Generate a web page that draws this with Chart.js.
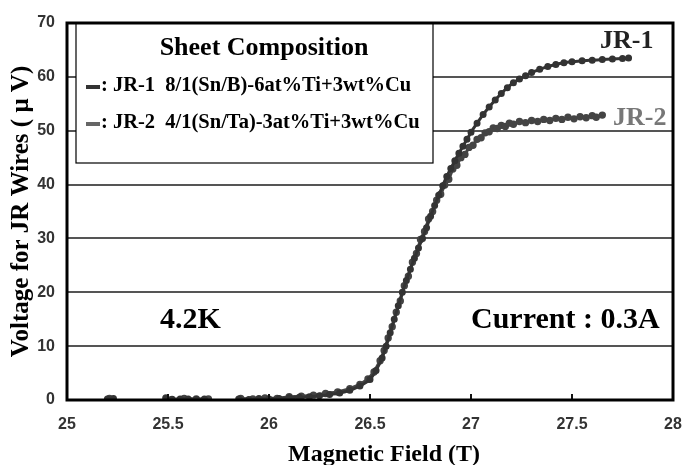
<!DOCTYPE html>
<html>
<head>
<meta charset="utf-8">
<script src="https://cdn.jsdelivr.net/npm/chart.js@4"></script>
<style>
  html, body { margin: 0; padding: 0; background: #fff; }
  #wrap { width: 686px; height: 465px; }
</style>
</head>
<body>
<div id="wrap"><canvas id="jrChart" width="686" height="465"></canvas></div>
<script>
// Magnetic field (T) and voltage (uV)
const fieldJR1 = [25.20, 25.23, null, 25.49, 25.52, 25.56, 25.60, 25.64, 25.68, null,
  25.85, 25.90, 25.95, 26.00, 26.05, 26.10, 26.15, 26.20, 26.25, 26.30, 26.35, 26.40,
  26.45, 26.50, 26.53, 26.56, 26.58, 26.60, 26.62, 26.64, 26.66, 26.68, 26.70, 26.72,
  26.74, 26.76, 26.78, 26.80, 26.82, 26.84, 26.86, 26.88, 26.90, 26.92, 26.94, 26.96,
  26.98, 27.00, 27.03, 27.06, 27.09, 27.12, 27.15, 27.18, 27.21, 27.24, 27.27, 27.30,
  27.34, 27.38, 27.42, 27.46, 27.50, 27.55, 27.60, 27.65, 27.70, 27.75, 27.78];
const voltJR1 = [0.2, 0.3, null, 0.3, 0.1, 0.2, 0.2, 0.1, 0.2, null,
  0.2, 0.1, 0.3, 0.2, 0.3, 0.4, 0.5, 0.6, 0.8, 1.0, 1.3, 1.8,
  2.6, 3.8, 5.5, 7.8, 10.0, 12.5, 15.0, 17.5, 20.0, 22.2, 24.3, 26.3,
  28.2, 30.0, 32.0, 34.1, 36.1, 38.0, 39.8, 41.5, 43.0, 44.4, 45.8, 47.1,
  48.4, 49.7, 51.4, 53.0, 54.4, 55.7, 56.9, 58.0, 58.9, 59.6, 60.2, 60.8,
  61.4, 61.9, 62.3, 62.6, 62.8, 63.0, 63.1, 63.2, 63.3, 63.4, 63.5];

const fieldJR2 = [25.21, null, 25.49, 25.52, 25.58, 25.64, 25.70, null,
  25.86, 25.92, 25.98, 26.04, 26.10, 26.16, 26.22, 26.28, 26.34, 26.40, 26.45, 26.49,
  26.52, 26.55, 26.57, 26.59, 26.61, 26.63, 26.65, 26.67, 26.69, 26.71, 26.73, 26.75,
  26.77, 26.79, 26.81, 26.83, 26.85, 26.87, 26.89, 26.91, 26.93, 26.95, 26.97, 26.99,
  27.01, 27.03, 27.05, 27.07, 27.09, 27.11, 27.13, 27.15, 27.17, 27.19, 27.21, 27.24,
  27.27, 27.30, 27.33, 27.36, 27.39, 27.42, 27.45, 27.48, 27.51, 27.54, 27.57, 27.60,
  27.62, 27.65];
const voltJR2 = [0.3, null, 0.4, 0.1, 0.3, 0.2, 0.2, null,
  0.3, 0.2, 0.4, 0.3, 0.6, 0.7, 0.9, 1.2, 1.5, 2.1, 2.9, 3.9,
  5.2, 7.3, 9.2, 11.5, 13.6, 16.3, 18.4, 21.2, 23.0, 25.6, 27.2, 29.8,
  31.3, 33.6, 35.0, 37.1, 38.2, 39.9, 41.0, 42.9, 43.6, 45.0, 45.6, 46.9,
  47.3, 48.4, 48.7, 49.6, 49.8, 50.5, 50.4, 51.0, 50.8, 51.4, 51.2, 51.7,
  51.5, 51.9, 51.7, 52.1, 51.9, 52.3, 52.1, 52.5, 52.2, 52.6, 52.4, 52.8,
  52.5, 52.9];

const xTicks = [25, 25.5, 26, 26.5, 27, 27.5, 28];
const seriesNames = ["JR-1", "JR-2"];
const legendTexts = [": JR-1  8/1(Sn/B)-6at%Ti+3wt%Cu", ": JR-2  4/1(Sn/Ta)-3at%Ti+3wt%Cu"];

function toPoints(xs, ys) {
  return xs.map((x, i) => (x === null ? { x: NaN, y: null } : { x: x, y: ys[i] }));
}

const serif = "'Liberation Serif', 'Times New Roman', serif";
const sans = "'Liberation Sans', Arial, sans-serif";

// legend box, labels and inward ticks
const decorations = {
  id: "decorations",
  afterDatasetsDraw(chart) {
    const ctx = chart.ctx;
    const area = chart.chartArea;
    const xs = chart.scales.x;
    ctx.save();

    // small ticks pointing up from the x axis
    ctx.strokeStyle = "#111";
    ctx.lineWidth = 2;
    xTicks.slice(1, -1).forEach(v => {
      const px = xs.getPixelForValue(v);
      ctx.beginPath();
      ctx.moveTo(px, area.bottom);
      ctx.lineTo(px, area.bottom - 6);
      ctx.stroke();
    });

    // legend box
    const bx = area.left + 9, by = area.top, bw = 357, bh = 140;
    ctx.fillStyle = "#fff";
    ctx.fillRect(bx, by, bw, bh);
    ctx.strokeStyle = "#000";
    ctx.lineWidth = 1.2;
    ctx.strokeRect(bx, by, bw, bh);

    ctx.fillStyle = "#000";
    ctx.textBaseline = "middle";
    ctx.textAlign = "center";
    ctx.font = "bold 26px " + serif;
    ctx.fillText("Sheet Composition", bx + 188, by + 25);

    const rowY = [by + 63, by + 100];
    const rowColor = ["#333", "#666"];
    ctx.textAlign = "left";
    ctx.font = "bold 20.5px " + serif;
    rowY.forEach((ry, i) => {
      ctx.strokeStyle = rowColor[i];
      ctx.lineWidth = 4;
      ctx.beginPath();
      ctx.moveTo(bx + 10, ry + 1);
      ctx.lineTo(bx + 24, ry + 1);
      ctx.stroke();
      ctx.fillStyle = "#000";
      ctx.fillText(legendTexts[i], bx + 25, ry);
    });

    // series labels at the curve ends
    ctx.font = "bold 26px " + serif;
    ctx.fillStyle = "#222";
    ctx.fillText(seriesNames[0], 600, 41);
    ctx.fillStyle = "#777";
    ctx.fillText(seriesNames[1], 613, 118);

    // conditions
    ctx.fillStyle = "#000";
    ctx.font = "bold 30px " + serif;
    ctx.fillText("4.2K", 160, 320);
    ctx.fillText("Current : 0.3A", 471, 320);

    // x axis title, sitting a little right of the axis centre as in the picture
    ctx.textAlign = "center";
    ctx.textBaseline = "alphabetic";
    ctx.font = "bold 24px " + serif;
    ctx.fillText("Magnetic Field (T)", 384, 461);

    // plot frame
    ctx.strokeStyle = "#000";
    ctx.lineWidth = 3;
    ctx.strokeRect(area.left, area.top, area.right - area.left, area.bottom - area.top);
    ctx.restore();
  }
};

new Chart(document.getElementById("jrChart"), {
  type: "line",
  data: {
    datasets: [{
      label: seriesNames[0],
      data: toPoints(fieldJR1, voltJR1),
      borderColor: "#333",
      backgroundColor: "#333",
      borderWidth: 3,
      pointRadius: 2,
      pointHoverRadius: 0,
      tension: 0.2,
      spanGaps: false
    }, {
      label: seriesNames[1],
      data: toPoints(fieldJR2, voltJR2),
      borderColor: "#444",
      backgroundColor: "#444",
      borderWidth: 3,
      pointRadius: 2.2,
      pointHoverRadius: 0,
      tension: 0,
      spanGaps: false
    }]
  },
  options: {
    responsive: false,
    animation: false,
    devicePixelRatio: 1,
    layout: { padding: { top: 23, right: 13, left: 0, bottom: 0 } },
    plugins: {
      legend: { display: false },
      tooltip: { enabled: false }
    },
    scales: {
      x: {
        type: "linear",
        min: 25,
        max: 28,
        afterBuildTicks: scale => { scale.ticks = xTicks.map(v => ({ value: v })); },
        afterFit: scale => {
          scale.height = 65;
          scale.paddingRight = 0;
        },
        grid: { display: false },
        border: { display: false },
        ticks: {
          color: "#333",
          padding: 7,
          maxRotation: 0,
          callback: v => String(v),
          font: { family: sans, size: 16, weight: "bold" }
        }
      },
      y: {
        min: 0,
        max: 70,
        afterFit: scale => { scale.width = 67; },
        grid: { color: "#555", lineWidth: 2, drawTicks: false },
        border: { display: false },
        ticks: {
          stepSize: 10,
          color: "#333",
          padding: 12,
          font: { family: sans, size: 16, weight: "bold" }
        },
        title: {
          display: true,
          text: "Voltage for JR Wires ( \u03bc V)",
          color: "#000",
          padding: { top: 7, bottom: 0 },
          font: { family: serif, size: 25, weight: "bold" }
        }
      }
    }
  },
  plugins: [decorations]
});
</script>
</body>
</html>
